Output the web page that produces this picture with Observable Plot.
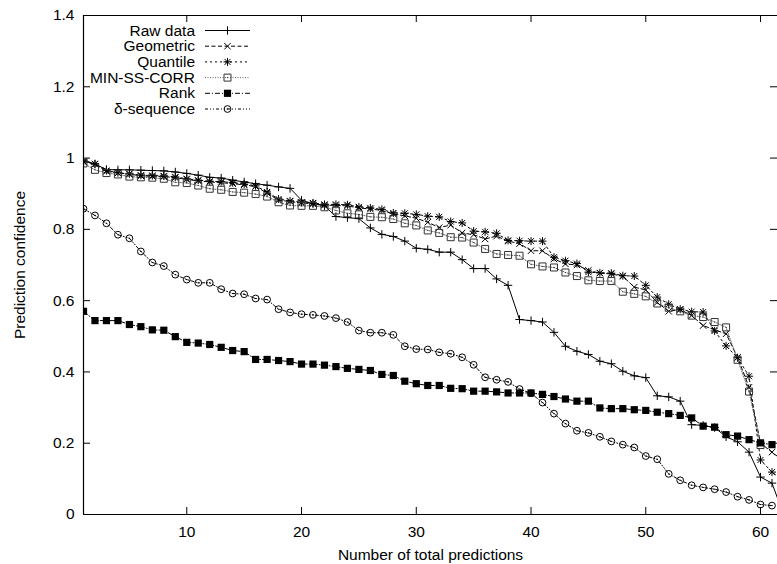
<!DOCTYPE html>
<html><head><meta charset="utf-8">
<script src="https://cdn.jsdelivr.net/npm/d3@7"></script>
<script src="https://cdn.jsdelivr.net/npm/@observablehq/plot@0.6"></script>
<style>html,body{margin:0;padding:0;background:#fff;overflow:hidden}</style>
</head><body><div id="chart"></div>
<script>
const seriesNames = ["Raw data","Geometric","Quantile","MIN-SS-CORR","Rank","δ-sequence"];
const rawData = [0.995,0.983,0.968,0.967,0.967,0.966,0.965,0.964,0.961,0.957,
 0.952,0.946,0.944,0.938,0.933,0.928,0.924,0.919,0.915,0.882,
 0.872,0.866,0.836,0.833,0.830,0.804,0.786,0.780,0.767,0.747,
 0.744,0.736,0.736,0.715,0.690,0.690,0.661,0.643,0.547,0.544,
 0.540,0.511,0.472,0.458,0.449,0.430,0.423,0.402,0.389,0.384,
 0.333,0.330,0.318,0.252,0.250,0.244,0.218,0.204,0.175,0.105,
 0.088,0.000];
const geometric = [0.990,0.983,0.963,0.958,0.955,0.950,0.949,0.948,0.945,0.940,
 0.936,0.933,0.931,0.928,0.925,0.920,0.902,0.882,0.878,0.874,
 0.872,0.868,0.867,0.866,0.860,0.857,0.853,0.843,0.838,0.831,
 0.820,0.805,0.812,0.790,0.785,0.773,0.781,0.767,0.760,0.740,
 0.740,0.717,0.703,0.700,0.685,0.677,0.675,0.668,0.638,0.630,
 0.595,0.570,0.575,0.558,0.530,0.518,0.507,0.441,0.357,0.200,
 0.175,0.150];
const quantile = [0.991,0.984,0.965,0.959,0.956,0.952,0.951,0.950,0.947,0.942,
 0.938,0.935,0.934,0.931,0.927,0.922,0.905,0.885,0.880,0.876,
 0.874,0.870,0.870,0.869,0.863,0.860,0.856,0.846,0.845,0.842,
 0.837,0.835,0.822,0.818,0.795,0.793,0.789,0.769,0.768,0.767,
 0.767,0.722,0.712,0.704,0.680,0.678,0.677,0.670,0.669,0.643,
 0.610,0.590,0.576,0.569,0.568,0.515,0.473,0.440,0.388,0.153,
 0.119,0.095];
const minSsCorr = [0.985,0.967,0.958,0.954,0.948,0.946,0.945,0.942,0.932,0.930,
 0.923,0.914,0.911,0.905,0.903,0.899,0.892,0.876,0.867,0.866,
 0.866,0.862,0.853,0.845,0.842,0.835,0.834,0.829,0.817,0.811,
 0.797,0.790,0.778,0.777,0.763,0.745,0.731,0.728,0.726,0.702,
 0.696,0.693,0.679,0.669,0.657,0.655,0.655,0.625,0.619,0.612,
 0.592,0.580,0.570,0.558,0.554,0.540,0.525,0.434,0.345,0.195];
const rank = [0.570,0.544,0.544,0.544,0.533,0.527,0.518,0.517,0.499,0.483,
 0.481,0.477,0.469,0.460,0.457,0.435,0.435,0.432,0.429,0.422,
 0.422,0.419,0.415,0.410,0.407,0.404,0.393,0.390,0.374,0.367,
 0.362,0.362,0.354,0.353,0.346,0.346,0.344,0.341,0.341,0.341,
 0.337,0.331,0.324,0.318,0.318,0.299,0.297,0.297,0.294,0.292,
 0.287,0.283,0.278,0.271,0.248,0.245,0.224,0.220,0.210,0.201,
 0.196];
const deltaSequence = [0.858,0.839,0.817,0.785,0.775,0.738,0.707,0.697,0.673,0.659,
 0.650,0.650,0.632,0.620,0.618,0.606,0.603,0.576,0.567,0.562,
 0.560,0.557,0.551,0.540,0.516,0.510,0.510,0.504,0.472,0.464,
 0.463,0.455,0.451,0.441,0.420,0.385,0.378,0.372,0.352,0.340,
 0.314,0.283,0.255,0.235,0.229,0.218,0.205,0.196,0.188,0.164,
 0.155,0.114,0.096,0.082,0.076,0.071,0.063,0.050,0.041,0.028,
 0.025];
const xTicks = [10,20,30,40,50,60];
const yTicks = [0,0.2,0.4,0.6,0.8,1,1.2,1.4];
const yTickLabels = ["0","0.2","0.4","0.6","0.8","1","1.2","1.4"];
const xLabel = "Number of total predictions";
const yLabel = "Prediction confidence";

// symbols (gnuplot-like point types)
const plusSym = {draw(c, s){const r=Math.sqrt(s/Math.PI); c.moveTo(-r,0);c.lineTo(r,0);c.moveTo(0,-r);c.lineTo(0,r);}};
const crossSym = {draw(c, s){const r=Math.sqrt(s/Math.PI); c.moveTo(-r,-r);c.lineTo(r,r);c.moveTo(-r,r);c.lineTo(r,-r);}};
const starSym = {draw(c, s){const r=Math.sqrt(s/Math.PI); const q=r*0.75; c.moveTo(-r,0);c.lineTo(r,0);c.moveTo(0,-r);c.lineTo(0,r);c.moveTo(-q,-q);c.lineTo(q,q);c.moveTo(-q,q);c.lineTo(q,-q);}};
const boxSym = {draw(c, s){const r=Math.sqrt(s/Math.PI); c.rect(-r,-r,2*r,2*r); c.moveTo(-0.6,0);c.lineTo(0.6,0);}};
const fboxSym = {draw(c, s){const r=Math.sqrt(s/Math.PI); c.rect(-r,-r,2*r,2*r);}};
const circSym = {draw(c, s){const r=Math.sqrt(s/Math.PI); c.moveTo(r,0); c.arc(0,0,r,0,2*Math.PI); c.moveTo(-0.8,0);c.lineTo(0.8,0);}};

const seriesValues = [rawData, geometric, quantile, minSsCorr, rank, deltaSequence];
const styles = [
  {dash: null, lineColor: "#000", sym: plusSym, r: 4.2, fill: "none", stroke: "#000"},
  {dash: "4,2.5", lineColor: "#000", sym: crossSym, r: 3.2, fill: "none", stroke: "#000"},
  {dash: "2,3", lineColor: "#000", sym: starSym, r: 4, fill: "none", stroke: "#000"},
  {dash: "1,1.5", lineColor: "#666", sym: boxSym, r: 3.5, fill: "none", stroke: "#333"},
  {dash: "5,2,1,2", lineColor: "#000", sym: fboxSym, r: 3.6, fill: "#000", stroke: "none"},
  {dash: "3,2,1,2,1,2", lineColor: "#000", sym: circSym, r: 3.4, fill: "none", stroke: "#000"}
];

const W = 777, H = 564, mL = 83, mR = 0, mT = 15, mB = 50;
const xMin = 1, xMax = 61.48;
const pxPerX = (W - mL - mR) / (xMax - xMin);
const pxPerY = (H - mT - mB) / 1.4;
const tickLen = 7;

const tidy = [];
seriesValues.forEach((vals, si) => vals.forEach((v, i) => tidy.push({s: seriesNames[si], x: i + 1, y: v})));

const marks = [];
seriesNames.forEach((name, si) => {
  const st = styles[si];
  const data = tidy.filter(d => d.s === name);
  marks.push(Plot.line(data, {x: "x", y: "y", stroke: st.lineColor, strokeWidth: 1, strokeDasharray: st.dash, clip: true}));
});
seriesNames.forEach((name, si) => {
  const st = styles[si];
  const data = tidy.filter(d => d.s === name);
  marks.push(Plot.dot(data, {x: "x", y: "y", symbol: st.sym, r: st.r, fill: st.fill, stroke: st.stroke, strokeWidth: 1, clip: true}));
});

// frame and inward ticks (mirrored)
marks.push(Plot.ruleX([xMin], {stroke: "#000", strokeWidth: 1.2}));
marks.push(Plot.ruleY([0, 1.4], {stroke: "#000", strokeWidth: 1.2}));
marks.push(Plot.ruleX(xTicks, {x: d => d, y1: 0, y2: tickLen / pxPerY, stroke: "#000"}));
marks.push(Plot.ruleX(xTicks, {x: d => d, y1: 1.4 - tickLen / pxPerY, y2: 1.4, stroke: "#000"}));
marks.push(Plot.ruleY(yTicks, {y: d => d, x1: xMin, x2: xMin + tickLen / pxPerX, stroke: "#000"}));
marks.push(Plot.ruleY(yTicks, {y: d => d, x1: xMax - tickLen / pxPerX, x2: xMax, stroke: "#000"}));

const chart = Plot.plot({
  width: W, height: H,
  marginLeft: mL, marginRight: mR, marginTop: mT, marginBottom: mB,
  style: {fontFamily: "'Liberation Sans', Arial, Helvetica, sans-serif", fontSize: "15.5px", color: "#000", background: "#fff", overflow: "visible"},
  x: {domain: [xMin, xMax], ticks: xTicks, tickSize: 0, tickPadding: 11, label: xLabel, labelAnchor: "center", labelOffset: 45, labelArrow: "none"},
  y: {domain: [0, 1.4], ticks: yTicks, tickSize: 0, tickPadding: 9, tickFormat: (d) => yTickLabels[yTicks.indexOf(d)] ?? String(d), label: yLabel, labelAnchor: "center", labelOffset: 70, labelArrow: "none"},
  marks
});
document.getElementById("chart").appendChild(chart);

// key (legend) drawn inside the chart's svg
const svg = d3.select(chart.tagName.toLowerCase() === "svg" ? chart : chart.querySelector("svg"));
const key = svg.append("g").attr("class", "key");
const keyTextX = 195, keyLineX1 = 205, keyLineX2 = 250, keyTop = 30, keyStep = 15.7;
seriesNames.forEach((name, si) => {
  const st = styles[si];
  const y = keyTop + si * keyStep;
  key.append("text").attr("x", keyTextX).attr("y", y).attr("dy", "0.36em")
    .attr("text-anchor", "end").attr("font-size", 15.5).attr("fill", "#000").text(name);
  key.append("line").attr("x1", keyLineX1).attr("x2", keyLineX2).attr("y1", y + 0.5).attr("y2", y + 0.5)
    .attr("stroke", st.lineColor).attr("stroke-width", 1).attr("stroke-dasharray", st.dash);
  key.append("path").attr("transform", `translate(${(keyLineX1 + keyLineX2) / 2},${y + 0.5})`)
    .attr("d", d3.symbol(st.sym, st.r * st.r * Math.PI)())
    .attr("fill", st.fill).attr("stroke", st.stroke).attr("stroke-width", 1);
});
</script></body></html>
